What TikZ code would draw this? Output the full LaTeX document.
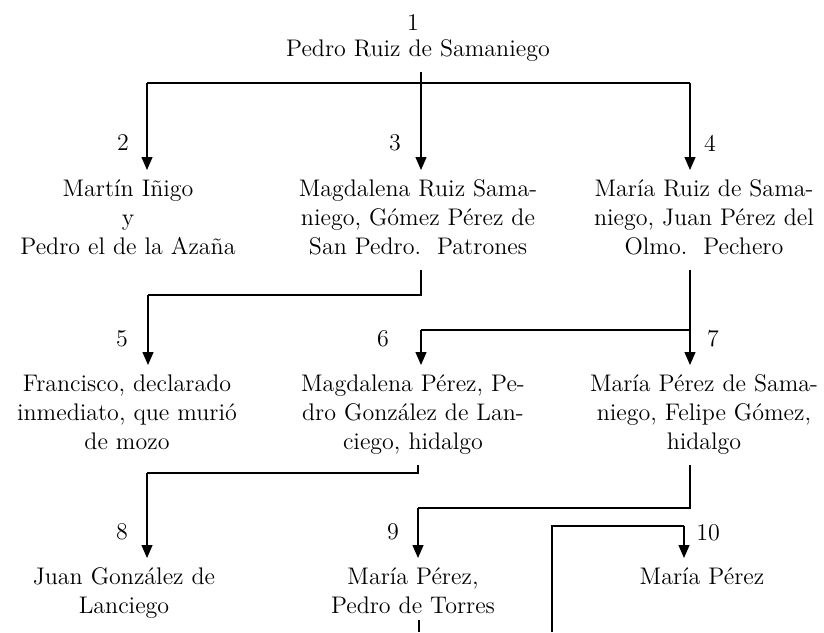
\documentclass[tikz,border=0pt]{standalone}
\usetikzlibrary{arrows.meta}
\begin{document}
\begin{tikzpicture}[x=0.5pt,y=-0.5pt,person/.style={anchor=north,text width=130pt,align=center,inner sep=3pt,font=\fontsize{12}{14.5}\selectfont,execute at begin node=\strut,execute at end node=\strut},number/.style={inner sep=0pt,font=\fontsize{12}{14.5}\selectfont},tochild/.style={semithick,-{Triangle[width=5.5pt,length=6.5pt]}},bar/.style={semithick}]
\useasboundingbox (0,0) rectangle (824,632);
\node[person,text width=170pt] (P1) at (418,30) {Pedro Ruiz de Samaniego};
\node[person] (P2) at (128,170) {Martín Iñigo\\y\\Pedro el de la Azaña};
\node[person] (P3) at (418,170) {Magdalena Ruiz Sama-\\niego, Gómez Pérez de\\San Pedro.\ \ Patrones};
\node[person] (P4) at (704,170) {María Ruiz de Sama-\\niego, Juan Pérez del\\Olmo.\ \ Pechero};
\node[person] (P5) at (127,365) {Francisco, declarado\\inmediato, que murió\\de mozo};
\node[person] (P6) at (413,365) {Magdalena Pérez, Pe-\\dro González de Lan-\\ciego, hidalgo};
\node[person] (P7) at (704,365) {María Pérez de Sama-\\niego, Felipe Gómez,\\hidalgo};
\node[person] (P8) at (124,558) {Juan González de\\Lanciego};
\node[person] (P9) at (413,558) {María Pérez,\\Pedro de Torres};
\node[person] (P10) at (702,558) {María Pérez};
\node[number] (n1) at (413,23) {1};
\node[number] (n2) at (123,143) {2};
\node[number] (n3) at (395,143) {3};
\node[number] (n4) at (710,143) {4};
\node[number] (n5) at (122,339) {5};
\node[number] (n6) at (383,339) {6};
\node[number] (n7) at (713,339) {7};
\node[number] (n8) at (122,532) {8};
\node[number] (n9) at (393,532) {9};
\node[number] (n10) at (708,533) {10};
\coordinate (a2) at (147,83);
\coordinate (a3) at (421,83);
\coordinate (a4) at (690,83);
\coordinate (a5) at (148,295);
\coordinate (a6) at (421,330);
\coordinate (a8) at (147,473);
\coordinate (a9) at (418,508);
\coordinate (a10) at (684,526);
\coordinate (c10) at (552,526);
\coordinate (t9) at (419,620);
\coordinate (bottom) at (0,632);
\draw[bar] (a2) -- (a4);
\draw[tochild] (a2) -- (a2 |- P2.north);
\draw[tochild] (P1.south -| a3) -- (a3 |- P3.north);
\draw[tochild] (a4) -- (a4 |- P4.north);
\draw[bar] (P3.south -| a3) |- (a5);
\draw[tochild] (a5) -- (a5 |- P5.north);
\draw[bar] (a6) -- (a6 -| a4);
\draw[tochild] (a6) -- (a6 |- P6.north);
\draw[tochild] (P4.south -| a4) -- (a4 |- P7.north);
\draw[bar] (P6.south -| a9) |- (a8);
\draw[tochild] (a8) -- (a8 |- P8.north);
\draw[bar] (P7.south -| a4) |- (a9);
\draw[tochild] (a9) -- (a9 |- P9.north);
\draw[bar] (c10 |- bottom) -- (c10) -- (a10);
\draw[tochild] (a10) -- (a10 |- P10.north);
\draw[bar] (t9) -- (t9 |- bottom);
\end{tikzpicture}
\end{document}
